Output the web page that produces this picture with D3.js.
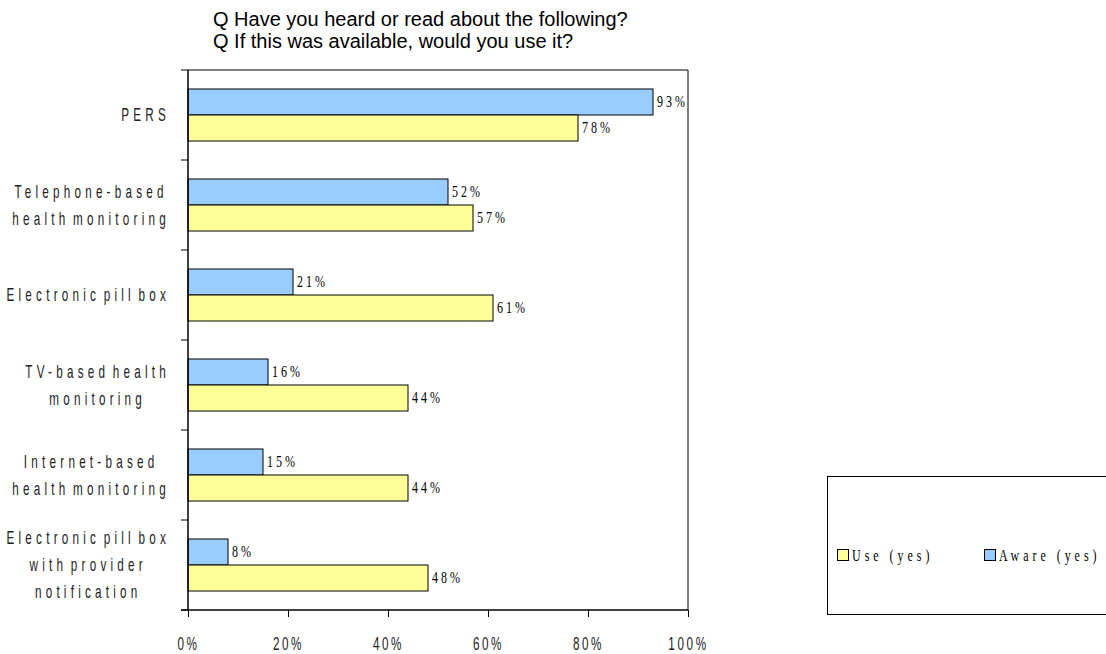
<!DOCTYPE html>
<html><head><meta charset="utf-8">
<script src="https://cdn.jsdelivr.net/npm/d3@7"></script>
<style>body{margin:0;background:#fff}svg{display:block}</style>
</head><body><svg id="c" width="1106" height="654"></svg>
<script>
const categories = [
  ["PERS"],
  ["Telephone-based","health monitoring"],
  ["Electronic pill box"],
  ["TV-based health","monitoring"],
  ["Internet-based","health monitoring"],
  ["Electronic pill box","with provider","notification"]
];
const awareValues = [93, 52, 21, 16, 15, 8];
const useValues = [78, 57, 61, 44, 44, 48];
const xTicks = [0, 20, 40, 60, 80, 100];
const titleLines = ["Q Have you heard or read about the following?", "Q If this was available, would you use it?"];
const seriesNames = ["Use (yes)", "Aware (yes)"];

const svg = d3.select("#c");
const L = 188, R = 688, T = 70, B = 610;
const SANS = "Arial, Liberation Sans, sans-serif";
const SERIF = "Liberation Serif, Times New Roman, serif";
const SX = 0.65;   // horizontal compression of axis labels
const x = d3.scaleLinear().domain([0, 100]).range([L, R]);
const y = d3.scaleBand().domain(d3.range(categories.length)).range([T, B]);
const sub = d3.scaleBand().domain(["aware","use"]).range([0, y.bandwidth()]).paddingOuter(0.73).paddingInner(0);
const colors = {aware: "#99CCFF", use: "#FFFF99"};

// titles
svg.selectAll("text.title").data(titleLines).join("text").attr("class","title")
  .attr("x", 213).attr("y", (d,i) => 26 + i*22)
  .attr("font-family", SANS).attr("font-size", 20).attr("fill", "#000")
  .text(d => d);

// frame top/right
svg.append("path").attr("d", `M${L},${T}H${R}V${B}`).attr("fill","none").attr("stroke","#000").attr("stroke-width",1);

// bars
const rows = categories.map((c,i) => ({i, aware: awareValues[i], use: useValues[i]}));
["aware","use"].forEach(k => {
  svg.selectAll("rect."+k).data(rows).join("rect").attr("class", k)
    .attr("x", x(0)).attr("y", d => y(d.i) + sub(k))
    .attr("width", d => x(d[k]) - x(0)).attr("height", sub.bandwidth())
    .attr("fill", colors[k]).attr("stroke", "#000").attr("stroke-width", 1);
  svg.selectAll("text.v"+k).data(rows).join("text").attr("class","v"+k)
    .attr("transform", d => `translate(${x(d[k]) + 4},${y(d.i) + sub(k) + sub.bandwidth()/2 + 5}) scale(0.75,1)`)
    .attr("font-family", SERIF).attr("font-size", 16)
    .attr("letter-spacing", 4).attr("fill","#000")
    .text(d => d[k] + "%");
});

// y axis
const yAxis = svg.append("g").attr("transform", `translate(${L},0)`);
yAxis.append("line").attr("x1",0).attr("x2",0).attr("y1",T).attr("y2",B).attr("stroke","#000").attr("stroke-width",1.5);
yAxis.selectAll("line.t").data(d3.range(categories.length+1)).join("line").attr("class","t")
  .attr("x1",-7).attr("x2",0).attr("y1", d => T + d*y.step()).attr("y2", d => T + d*y.step())
  .attr("stroke","#000");

// category labels
categories.forEach((lines, i) => {
  const g = svg.append("g");
  const cy = y(i) + y.bandwidth()/2;
  const lh = 27;
  const texts = g.selectAll("text").data(lines).join("text")
    .attr("font-family", SANS).attr("font-size", 18)
    .attr("letter-spacing", 6.5).attr("word-spacing", -6).attr("fill","#222").attr("text-anchor","middle")
    .text(d => d);
  let maxW = 0;
  texts.each(function(){ maxW = Math.max(maxW, this.getComputedTextLength() * SX); });
  const cx = 170 - maxW/2;
  texts.attr("transform", (d,j) => `translate(${cx},${cy + (j - (lines.length-1)/2)*lh + 6}) scale(${SX},1)`);
});

// x axis
const xAxis = d3.axisBottom(x).tickValues(xTicks).tickFormat(d => d + "%").tickSize(7).tickSizeOuter(0);
const gx = svg.append("g").attr("transform", `translate(0,${B})`).call(xAxis);
gx.select(".domain").remove();
gx.append("line").attr("x1", L-7).attr("x2", R).attr("y1",0).attr("y2",0).attr("stroke","#000").attr("stroke-width",1.5);
gx.selectAll(".tick line").attr("stroke","#000");
gx.selectAll(".tick text").attr("y", 0).attr("dy", 0)
  .attr("transform", `translate(0,40) scale(${SX},1)`)
  .attr("font-family", SANS).attr("font-size", 18)
  .attr("letter-spacing", 4).attr("fill","#222");

// legend
svg.append("rect").attr("x", 827.5).attr("y", 476.5).attr("width", 300).attr("height", 138)
  .attr("fill","#fff").attr("stroke","#000");
const legItems = [{name: seriesNames[0], c: colors.use, x: 837}, {name: seriesNames[1], c: colors.aware, x: 984}];
const lg = svg.selectAll("g.leg").data(legItems).join("g").attr("class","leg");
lg.append("rect").attr("x", d => d.x + 0.5).attr("y", 549.5).attr("width", 11).attr("height", 11)
  .attr("fill", d => d.c).attr("stroke","#000");
lg.append("text").attr("transform", d => `translate(${d.x + 15},561) scale(0.75,1)`)
  .attr("font-family", SERIF).attr("font-size", 16)
  .attr("letter-spacing", 5.3).attr("fill","#000").text(d => d.name);
</script></body></html>
